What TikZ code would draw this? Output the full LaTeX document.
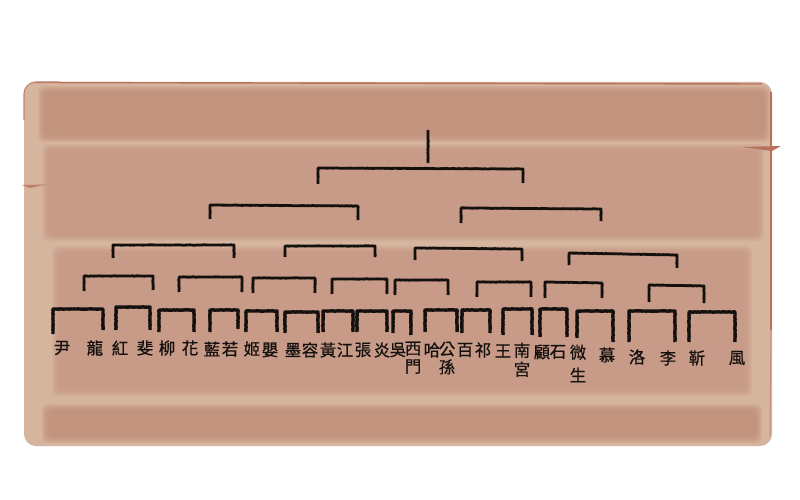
\documentclass[tikz,border=0pt]{standalone}
\usepackage{fontspec}
\newfontfamily\cjk[FakeBold=0.6]{Noto Sans CJK TC}
\usetikzlibrary{decorations.pathmorphing}
\definecolor{paperlight}{RGB}{214,181,159}
\definecolor{paperband}{RGB}{196,148,128}
\definecolor{paperdark}{RGB}{188,136,115}
\definecolor{paperedge}{RGB}{184,112,92}
\definecolor{ink}{RGB}{20,16,14}
\newcommand\brkt[7]{\draw[#1] (#2,#6) -- (#2,#4) -- (#3,#5) -- (#3,#7);}
% soft band: colour, x1, y1, x2, y2
\newcommand\softband[5]{%
  \foreach \k in {0,1.5,...,6}{%
    \fill[#1, fill opacity=0.22, rounded corners=6pt]
      ({#2+\k},{#3+\k}) rectangle ({#4-\k},{#5-\k});}}
\begin{document}
\begin{tikzpicture}[x=1pt,y=-1pt,
  brk/.style={line width=2.8pt, ink, line join=round, decorate,
    decoration={random steps, segment length=1.5pt, amplitude=0.18pt}},
  brkb/.style={brk, line width=3.4pt},
  nm/.style={inner sep=0pt, font=\cjk\fontsize{16.5}{18}\selectfont, text=ink}]
\pgfmathsetseed{11}
\useasboundingbox (0,0) rectangle (800,500);
\fill[white] (0,0) rectangle (800,500);
% paper
\fill[paperlight, rounded corners=12pt] (24,82) rectangle (772,446);
\softband{paperdark}{38}{86}{770}{142}
\softband{paperband}{42}{144}{764}{241}
\softband{paperband}{52}{246}{752}{396}
\softband{paperdark}{42}{404}{762}{443}
\draw[paperedge, line width=1.4pt, line cap=round] (34,82.5) -- (762,84);
\draw[paperedge!70!paperlight, line width=1.2pt, rounded corners=12pt]
  (24,120) -- (24,82) -- (60,82);
\draw[paperedge, line width=1.3pt] (771,92) -- (771,330);
\draw[paperedge!60!paperlight, line width=1pt] (771,330) -- (770,436);
\fill[paperedge] (742,147) -- (781,146) -- (772,151) -- cycle;
\fill[paperedge!80!paperlight] (22,185) -- (47,184.5) -- (30,188) -- cycle;
% root
\coordinate (root) at (428,130);
\draw[brk] (root) -- (428,163);
\brkt{brk}{318}{523}{168}{169}{184}{183}
% level 1
\brkt{brk}{210}{358}{205}{206}{219}{220}
\brkt{brk}{461}{601}{208}{209}{223}{221}
% level 2
\brkt{brk}{113}{234}{245}{245}{258}{258}
\brkt{brk}{285}{375}{246}{246}{257}{257}
\brkt{brk}{415}{522}{248}{249}{260}{261}
\brkt{brk}{569}{677}{253}{255}{265}{268}
% level 3
\brkt{brk}{84}{153}{276}{276}{291}{290}
\brkt{brk}{179}{242}{277}{277}{292}{292}
\brkt{brk}{253}{315}{278}{278}{293}{293}
\brkt{brk}{332}{387}{279}{279}{294}{294}
\brkt{brk}{395}{448}{280}{280}{295}{295}
\brkt{brk}{477}{531}{282}{282}{297}{297}
\brkt{brk}{545}{602}{282}{283}{298}{298}
\brkt{brk}{649}{704}{285}{286}{302}{303}
% level 4
\brkt{brkb}{53}{103}{309}{309}{334}{330}
\brkt{brkb}{116}{150}{307}{307}{330}{330}
\brkt{brkb}{159}{194}{310}{310}{332}{332}
\brkt{brkb}{210}{238}{310}{310}{332}{329}
\brkt{brkb}{246}{277}{311}{311}{332}{332}
\brkt{brkb}{285}{318}{312}{312}{333}{333}
\brkt{brkb}{323}{353}{311}{311}{332}{332}
\brkt{brkb}{357}{387}{311}{311}{332}{332}
\brkt{brkb}{393}{411}{311}{311}{333}{335}
\brkt{brkb}{425}{457}{310}{310}{332}{332}
\brkt{brkb}{462}{490}{310}{310}{333}{333}
\brkt{brkb}{503}{532}{309}{309}{335}{335}
\brkt{brkb}{540}{567}{309}{309}{337}{337}
\brkt{brkb}{577}{613}{311}{311}{338}{342}
\brkt{brkb}{629}{675}{311}{311}{342}{342}
\brkt{brkb}{689}{735}{312}{312}{342}{342}
% names
\node[nm] (n1) at (62,348) {尹};
\node[nm] (n2) at (95,348) {龍};
\node[nm] (n3) at (120,348) {紅};
\node[nm] (n4) at (145,348) {斐};
\node[nm] (n5) at (167,348) {柳};
\node[nm] (n6) at (190,348) {花};
\node[nm] (n7) at (212,349) {藍};
\node[nm] (n8) at (230,349) {若};
\node[nm] (n9) at (252,349) {姬};
\node[nm] (n10) at (270,350) {嬰};
\node[nm] (n11) at (293,350) {墨};
\node[nm] (n12) at (310,350) {容};
\node[nm] (n13) at (328,350) {黃};
\node[nm] (n14) at (345,350) {江};
\node[nm] (n15) at (363,350) {張};
\node[nm] (n16) at (382,350) {炎};
\node[nm] (n17) at (398,350) {吳};
\node[nm, align=center, anchor=north] (n18) at (413,341.5) {西\\門};
\node[nm] (n19) at (432,350) {哈};
\node[nm, align=center, anchor=north] (n20) at (447,341.5) {公\\孫};
\node[nm] (n21) at (465,350) {百};
\node[nm] (n22) at (483,350) {祁};
\node[nm] (n23) at (503,351) {王};
\node[nm, align=center, anchor=north] (n24) at (522,342.5) {南\\[1pt]宮};
\node[nm] (n25) at (542,352) {顧};
\node[nm] (n26) at (558,352) {石};
\node[nm, align=center, anchor=north] (n27) at (578,344.5) {微\\[5pt]生};
\node[nm] (n28) at (607,355) {慕};
\node[nm] (n29) at (637,357) {洛};
\node[nm] (n30) at (668,358) {李};
\node[nm] (n31) at (697,358) {靳};
\node[nm] (n32) at (737,358) {風};
\end{tikzpicture}
\end{document}
